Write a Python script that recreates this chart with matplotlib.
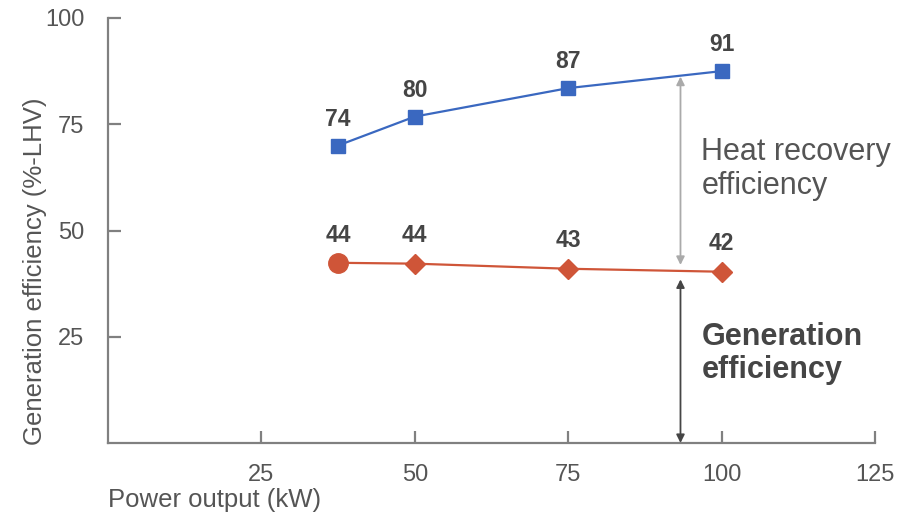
import matplotlib
matplotlib.use("Agg")
import matplotlib.pyplot as plt

plt.rcParams['font.family'] = ['Liberation Sans', 'DejaVu Sans']

power = [37.5, 50, 75, 100]
heat_total = [70, 76.8, 83.5, 87.5]
heat_labels = ["74", "80", "87", "91"]
gen_eff = [42.4, 42.2, 41.0, 40.3]
gen_labels = ["44", "44", "43", "42"]
arrow_x = 93.3

blue = "#3a68c0"
red = "#cf5538"
axis_grey = "#808080"
text_grey = "#555555"
dark = "#454545"

fig = plt.figure(figsize=(9.12, 5.23), dpi=100)
ax = fig.add_axes([108 / 912, 1 - 443 / 523, 767 / 912, 425 / 523])

ax.plot(power, heat_total, color=blue, lw=1.6, marker="s", ms=10.5, clip_on=False, zorder=3)
ax.plot(power, gen_eff, color=red, lw=1.6, clip_on=False, zorder=3)
ax.plot(power[:1], gen_eff[:1], color=red, marker="o", ms=14, ls="none", clip_on=False, zorder=4)
ax.plot(power[1:], gen_eff[1:], color=red, marker="D", ms=10.5, ls="none", clip_on=False, zorder=4)

for x, y, s in zip(power, heat_total, heat_labels):
    ax.annotate(s, (x, y), xytext=(0, 19), textcoords="offset points",
                ha="center", va="center", fontsize=16.5, fontweight="bold", color=dark)
for x, y, s in zip(power, gen_eff, gen_labels):
    ax.annotate(s, (x, y), xytext=(0, 20), textcoords="offset points",
                ha="center", va="center", fontsize=16.5, fontweight="bold", color=dark)

# double arrows
ax.annotate("", xy=(arrow_x, heat_total[3] - 1.3), xytext=(arrow_x, gen_eff[3] + 1.6),
            arrowprops=dict(arrowstyle="<|-|>", color="#aaaaaa", lw=1.3,
                            mutation_scale=12, shrinkA=0, shrinkB=0))
ax.annotate("", xy=(arrow_x, gen_eff[3] - 1.8), xytext=(arrow_x, 0),
            arrowprops=dict(arrowstyle="<|-|>", color=dark, lw=1.3,
                            mutation_scale=12, shrinkA=0, shrinkB=0))

ax.text(96.7, 64.5, "Heat recovery\nefficiency", fontsize=22, color=text_grey,
        ha="left", va="center", linespacing=1.15)
ax.text(96.7, 21, "Generation\nefficiency", fontsize=22, fontweight="bold", color=dark,
        ha="left", va="center", linespacing=1.15)

ax.set_xlim(0, 125)
ax.set_ylim(0, 100)
ax.set_xticks([25, 50, 75, 100, 125])
ax.set_yticks([25, 50, 75, 100])
ax.spines["top"].set_visible(False)
ax.spines["right"].set_visible(False)
for sp in ("left", "bottom"):
    ax.spines[sp].set_color(axis_grey)
    ax.spines[sp].set_linewidth(1.6)
ax.tick_params(direction="in", length=9, width=1.6, color=axis_grey,
               labelsize=17, labelcolor=text_grey)
ax.tick_params(axis="y", pad=17)
ax.tick_params(axis="x", pad=15)

ax.set_xlabel("Power output (kW)", fontsize=18.5, color=text_grey, ha="left")
ax.xaxis.set_label_coords(0, -0.105)
ax.set_ylabel("Generation efficiency (%-LHV)", fontsize=18.5, color=text_grey)
ax.yaxis.set_label_coords(-0.08, 0.405)

fig.savefig("out.png", dpi=100)
